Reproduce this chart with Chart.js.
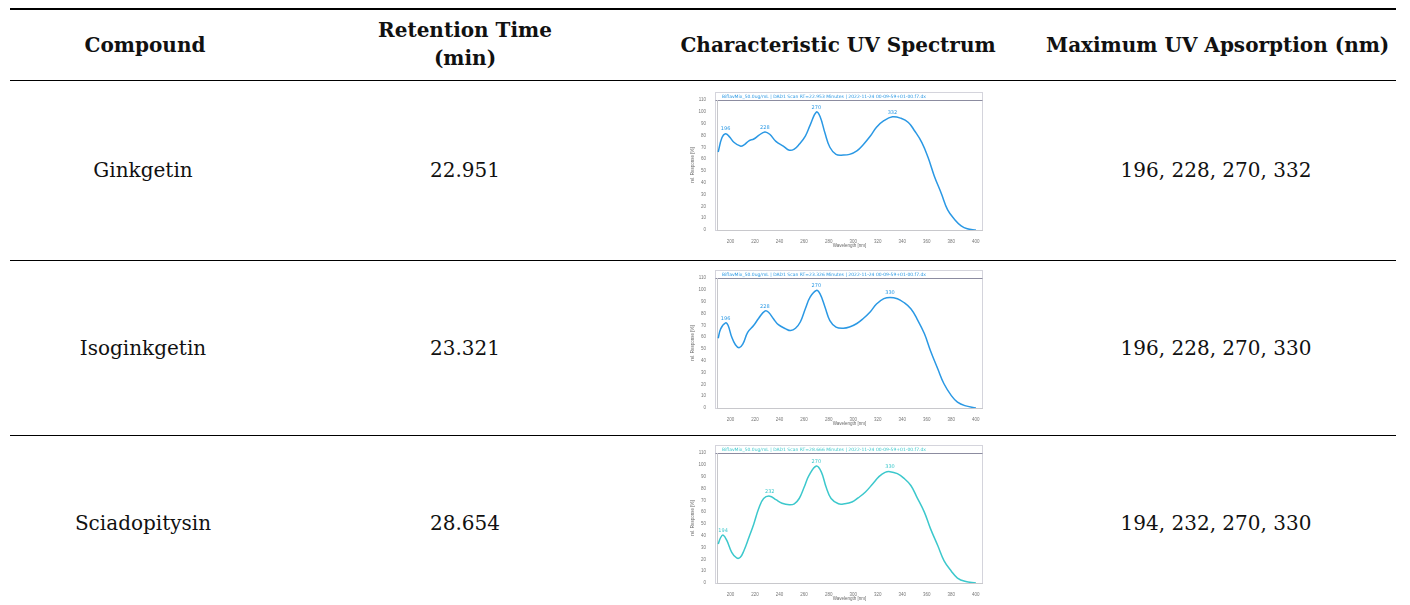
<!DOCTYPE html>
<html>
<head>
<meta charset="utf-8">
<script src="https://cdn.jsdelivr.net/npm/chart.js@4/dist/chart.umd.min.js"></script>
<style>
  html, body { margin: 0; padding: 0; background: #fff; }
  body { width: 1410px; height: 605px; position: relative; overflow: hidden;
         font-family: "DejaVu Serif", "Liberation Serif", serif; color: #111; }
  .rule { position: absolute; left: 10px; width: 1386px; background: #000; }
  .cell { position: absolute; width: 340px; text-align: center; font-size: 20px;
          height: 30px; line-height: 30px; white-space: nowrap; }
  .hd { font-weight: bold; }
  canvas.spec { position: absolute; left: 690px; }
</style>
</head>
<body>
<div class="rule" style="top:8px;height:2px"></div>
<div class="rule" style="top:80px;height:1px"></div>
<div class="rule" style="top:260px;height:1px"></div>
<div class="rule" style="top:435px;height:1px"></div>

<div class="cell hd" style="left:-25px;top:30px">Compound</div>
<div class="cell hd" style="left:295px;top:16px;line-height:28px">Retention Time</div>
<div class="cell hd" style="left:295px;top:44px;line-height:28px">(min)</div>
<div class="cell hd" style="left:668px;top:30px">Characteristic UV Spectrum</div>
<div class="cell hd" style="left:1046px;top:30px">Maximum UV Apsorption (nm)</div>

<div id="rows"></div>

<canvas class="spec" id="c1" width="296" height="160" style="top:88px"></canvas>
<canvas class="spec" id="c2" width="296" height="160" style="top:266px"></canvas>
<canvas class="spec" id="c3" width="296" height="160" style="top:441px"></canvas>

<script>
// table rows
const compounds = ['Ginkgetin', 'Isoginkgetin', 'Sciadopitysin'];
const retentionTimes = ['22.951', '23.321', '28.654'];
const maxAbsorption = ['196, 228, 270, 332', '196, 228, 270, 330', '194, 232, 270, 330'];
const scanTitles = [
  'BiflavMix_50.0ug/mL | DAD1 Scan RT=22.953 Minutes | 2022-11-24 00-09-59+01-00.f7.dx',
  'BiflavMix_50.0ug/mL | DAD1 Scan RT=23.326 Minutes | 2022-11-24 00-09-59+01-00.f7.dx',
  'BiflavMix_50.0ug/mL | DAD1 Scan RT=28.666 Minutes | 2022-11-24 00-09-59+01-00.f7.dx'
];

// spectra (wavelength nm / rel. response %)
const ginkgetinWl  = [190,193,196,199,203,208,211,215,219,223,228,232,237,243,248,252,256,261,265,270,273,277,281,286,292,297,303,308,314,319,325,332,339,345,350,356,361,366,372,377,383,388,393,400];
const ginkgetinAbs = [66,78,81.5,79,74,71,72,75.5,77,80,83,81,75,71,67.5,68.5,72.5,79.5,89,99.8,96,82,70,64,63.4,64,67,72,79.5,87,92.5,95.8,94.5,91,84,74,61.5,46,30.5,17,8.5,3.5,1,0];
const ginkgetinPeaks = [196, 228, 270, 332];

const isoginkgetinWl  = [190,192,196,198,201,204,207,210,214,219,223,228,231,235,239,245,249,253,257,261,265,270,273,277,281,286,292,297,303,308,314,319,325,330,336,341,347,352,358,363,369,374,380,385,391,400];
const isoginkgetinAbs = [59,67,72,70,60,53.5,51,54,64,70,76,82,81,75.5,70.5,67,65.5,67.5,73,84,94,99.5,96.5,85.5,74,68.5,67.5,68.5,71.5,75.5,81.5,88,92.5,93.6,92.5,89.5,84,75.5,63,48.5,33,20.5,10.5,5,2,0];
const isoginkgetinPeaks = [196, 228, 270, 330];

const sciadopitysinWl  = [190,192,194,197,201,205,208,211,215,219,223,227,232,237,242,248,252,256,260,264,270,274,278,282,288,293,299,304,310,316,321,326,330,336,341,347,352,358,363,369,374,380,385,391,400];
const sciadopitysinAbs = [33,38.5,40.5,36,26,21.2,21.8,27.5,38.5,50,63,71.5,73.5,70.5,67.5,66.2,67,71.5,81,91,99,94,81,71.5,67,67,68.5,72,77,84,90,93.6,94.2,92.5,89,82.5,72.5,60,46,31.5,19,10,4.2,1.4,0];
const sciadopitysinPeaks = [194, 232, 270, 330];

const xTicks = [200, 220, 240, 260, 280, 300, 320, 340, 360, 380, 400];
const yTicks = [0, 10, 20, 30, 40, 50, 60, 70, 80, 90, 100, 110];

const rowCenters = [170, 348, 523];
const rows = document.getElementById('rows');
compounds.forEach((name, i) => {
  const top = rowCenters[i] - 15;
  rows.insertAdjacentHTML('beforeend',
    `<div class="cell" style="left:-27px;top:${top}px">${name}</div>` +
    `<div class="cell" style="left:295px;top:${top}px">${retentionTimes[i]}</div>` +
    `<div class="cell" style="left:1046px;top:${top}px">${maxAbsorption[i]}</div>`);
});

// frame + title band of the instrument plot
const framePlugin = {
  id: 'frame',
  beforeDraw(chart, args, opts) {
    const { ctx, chartArea: a } = chart;
    ctx.save();
    ctx.strokeStyle = '#d4d4dc';
    ctx.lineWidth = 1;
    ctx.strokeRect(a.left - 1.5, a.top - 7.5, a.right - a.left + 2, a.bottom - a.top + 8);
    ctx.strokeStyle = '#8c8ca0';
    ctx.beginPath();
    ctx.moveTo(a.left - 1.5, a.top + 0.5);
    ctx.lineTo(a.right + 0.5, a.top + 0.5);
    ctx.stroke();
    ctx.fillStyle = opts.color;
    ctx.font = '4.5px "DejaVu Sans"';
    ctx.textBaseline = 'middle';
    ctx.fillText(opts.title, a.left + 5, a.top - 3.5);
    ctx.restore();
  }
};

// wavelength labels over the maxima
const peakPlugin = {
  id: 'peaks',
  afterDatasetsDraw(chart, args, opts) {
    const { ctx, scales } = chart;
    const pts = chart.data.datasets[0].data;
    ctx.save();
    ctx.fillStyle = opts.color;
    ctx.font = '5px "DejaVu Sans"';
    ctx.textAlign = 'center';
    ctx.textBaseline = 'bottom';
    opts.peaks.forEach(p => {
      const pt = pts.find(d => d.x === p);
      ctx.fillText(String(p), scales.x.getPixelForValue(p), scales.y.getPixelForValue(pt.y) - 2);
    });
    ctx.restore();
  }
};

function makeSpectrum(id, wl, abs, peaks, color, title) {
  return new Chart(document.getElementById(id), {
    type: 'line',
    data: {
      datasets: [{
        data: wl.map((x, i) => ({ x: x, y: abs[i] })),
        borderColor: color,
        borderWidth: 1.5,
        pointRadius: 0,
        tension: 0.4,
        fill: false
      }]
    },
    options: {
      responsive: false,
      animation: false,
      events: [],
      layout: { padding: { top: 12, right: 4, left: 0, bottom: 0 } },
      plugins: {
        legend: { display: false },
        tooltip: { enabled: false },
        frame: { color: color, title: title },
        peaks: { color: color, peaks: peaks }
      },
      scales: {
        x: {
          type: 'linear', min: 189, max: 405,
          afterBuildTicks: s => { s.ticks = xTicks.map(v => ({ value: v })); },
          afterFit: s => { s.height = 18; },
          ticks: { autoSkip: false, maxRotation: 0, padding: 1, color: '#777', font: { size: 4.5 } },
          grid: { display: false },
          border: { color: '#c8c8cc' },
          title: { display: true, text: 'Wavelength [nm]', color: '#666', font: { size: 4.5 }, padding: 0 }
        },
        y: {
          min: 0, max: 110,
          afterBuildTicks: s => { s.ticks = yTicks.map(v => ({ value: v })); },
          afterFit: s => { s.width = 27; },
          ticks: { padding: 3, color: '#777', font: { size: 4.5 } },
          grid: { display: false },
          border: { color: '#c8c8cc' },
          title: { display: true, text: 'rel. Response [%]', color: '#666', font: { size: 4.5 }, padding: 0 }
        }
      }
    },
    plugins: [framePlugin, peakPlugin]
  });
}

makeSpectrum('c1', ginkgetinWl, ginkgetinAbs, ginkgetinPeaks, '#2a98e4', scanTitles[0]);
makeSpectrum('c2', isoginkgetinWl, isoginkgetinAbs, isoginkgetinPeaks, '#2a98e4', scanTitles[1]);
makeSpectrum('c3', sciadopitysinWl, sciadopitysinAbs, sciadopitysinPeaks, '#3cc8cc', scanTitles[2]);
</script>
</body>
</html>
